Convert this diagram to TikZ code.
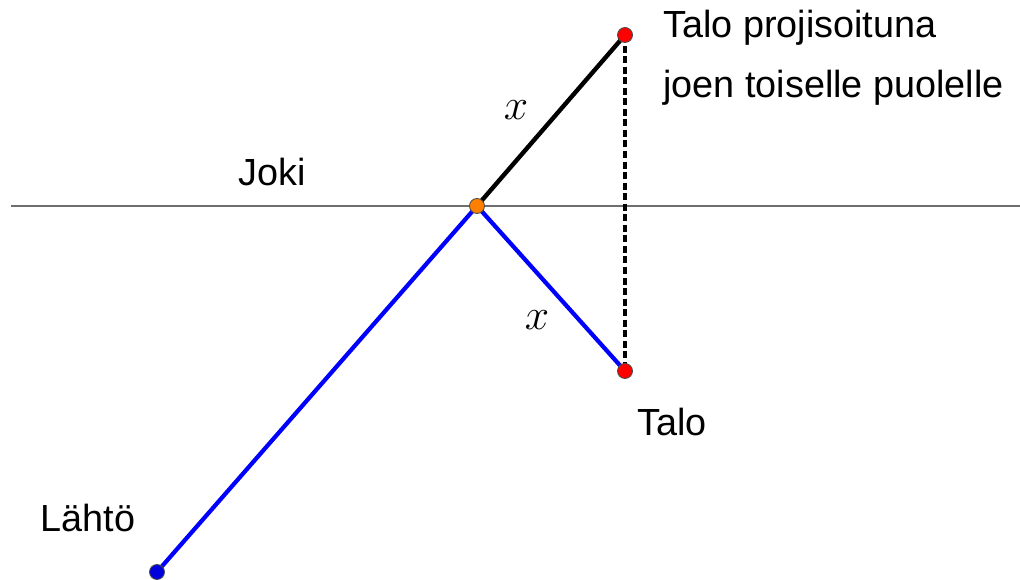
\documentclass[tikz,border=0pt]{standalone}
\usepackage{fontspec}
\setmainfont{Liberation Sans}
\usepackage{tikz}
\usetikzlibrary{positioning,calc}
\definecolor{riverGray}{RGB}{110,110,110}
\definecolor{pathBlue}{RGB}{0,0,255}
\definecolor{dotOrange}{RGB}{255,128,0}
\definecolor{dotRed}{RGB}{255,0,0}
\definecolor{dotBlue}{RGB}{0,0,220}

\begin{document}
\begin{tikzpicture}[
    dot/.style={circle, draw=black!70, line width=0.5pt, minimum size=0.3cm, inner sep=0pt},
    route/.style={pathBlue, line width=2.4pt},
    lbl/.style={font=\fontsize{21.5}{26}\selectfont, inner sep=0pt},
    xlbl/.style={font=\fontsize{25}{30}\selectfont, inner sep=0pt}
]
    \useasboundingbox (0,0) rectangle (20.4,11.6);

    % River
    \coordinate (r1) at (0.22,7.48);
    \coordinate (r2) at (20.4,7.48);
    \draw[riverGray, line width=0.6pt] (r1) -- (r2);
    \node[lbl] (joki) at (5.44,8.16) {Joki};

    % Points
    \coordinate (O) at (9.54,7.48);
    \coordinate (T) at (12.5,10.9);
    \coordinate (H) at (12.5,4.18);
    \coordinate (S) at (3.14,0.16);

    % Segments
    \draw[line width=2.5pt] (O) -- (T);
    \draw[line width=2pt, dash pattern=on 4pt off 2pt] (T) -- (H);
    \draw[route] (S) -- (O) -- (H);

    % Dots
    \node[dot, fill=dotOrange] (o) at (O) {};
    \node[dot, fill=dotRed] (t) at (T) {};
    \node[dot, fill=dotRed] (h) at (H) {};
    \node[dot, fill=dotBlue] (s) at (S) {};

    % Labels
    \node[lbl, anchor=west, align=left] (proj) at (13.26,10.45)
        {Talo projisoituna\\[8pt]joen toiselle puolelle};
    \node[lbl] (talo) at (13.44,3.16) {Talo};
    \node[lbl] (lahto) at (1.76,1.24) {Lähtö};
    \node[xlbl] (x1) at (10.32,9.4) {$x$};
    \node[xlbl] (x2) at (10.74,5.2) {$x$};
\end{tikzpicture}
\end{document}
